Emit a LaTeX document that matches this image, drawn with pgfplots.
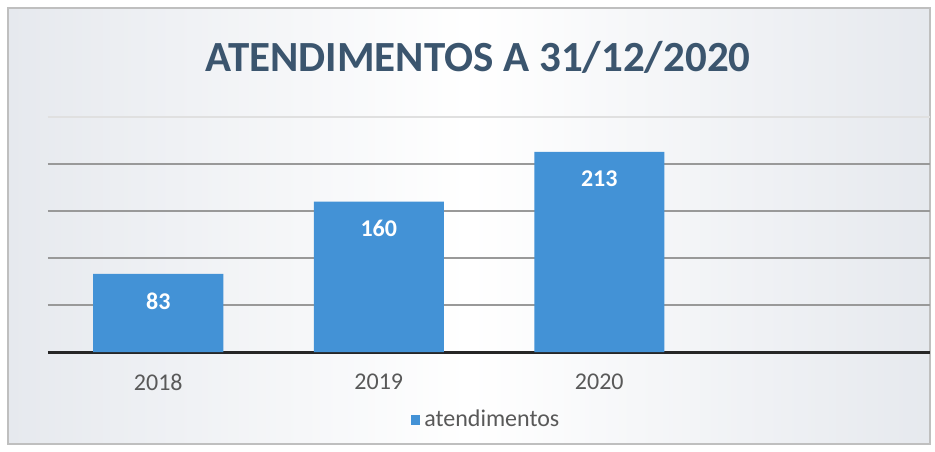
\documentclass[border=0pt]{standalone}
\usepackage{pgfplots}
\pgfplotsset{compat=1.18}
\usepackage{fontspec}
\setmainfont{Carlito}
\definecolor{barblue}{HTML}{4392D6}
\definecolor{titlecol}{HTML}{3B556E}
\definecolor{ticktext}{HTML}{595959}
\definecolor{edgegray}{HTML}{E6E9EE}
\begin{document}
\begin{tikzpicture}
\path[use as bounding box] (0pt,0pt) rectangle (467.5pt,225.5pt);
\fill[white] (0pt,0pt) rectangle (467.5pt,225.5pt);
\shade[left color=edgegray, right color=edgegray, middle color=white] (4pt,3.5pt) rectangle (465pt,221.5pt);
\draw[black!25, line width=0.6pt] (4pt,3.5pt) rectangle (465pt,221.5pt);
\node[font=\bfseries\fontsize{21.5}{24}\selectfont, text=titlecol] at (239pt,197pt) {ATENDIMENTOS A 31/12/2020};
\begin{axis}[
  at={(24pt,49.5pt)}, anchor=south west,
  scale only axis, width=441pt, height=117.5pt,
  ybar, bar width=65pt,
  xmin=-0.5, xmax=3.5, ymin=0, ymax=250,
  xtick={0,1,2}, xticklabels={2018,2019,2020},
  xticklabel style={font=\fontsize{12}{14}\selectfont, text=ticktext, yshift=-3pt},
  xtick style={draw=none},
  ytick={50,100,150,200}, yticklabels={},
  ytick style={draw=none},
  extra y ticks={250}, extra y tick labels={},
  extra y tick style={grid style={color=black!12, line width=0.6pt}},
  ymajorgrids, grid style={color=black!40, line width=0.8pt},
  axis x line*=bottom, axis y line*=left,
  y axis line style={draw=none},
  x axis line style={-, line width=1.5pt, draw=black!85},
  /pgf/number format/assume math mode=true,
  nodes near coords,
  every node near coord/.append style={font=\bfseries\fontsize{12}{14}\selectfont, text=white, anchor=center, yshift=-13.5pt},
  legend style={at={(0.498,-0.289)}, anchor=center, draw=none, fill=none, font=\fontsize{12}{14}\selectfont, text=ticktext},
  legend image code/.code={\fill[barblue] (0pt,-2.3pt) rectangle (4.6pt,2.3pt);},
]
\addplot[fill=barblue, draw=none] coordinates {(0,83) (1,160) (2,213)};
\addlegendentry{atendimentos}
\end{axis}
\end{tikzpicture}
\end{document}
